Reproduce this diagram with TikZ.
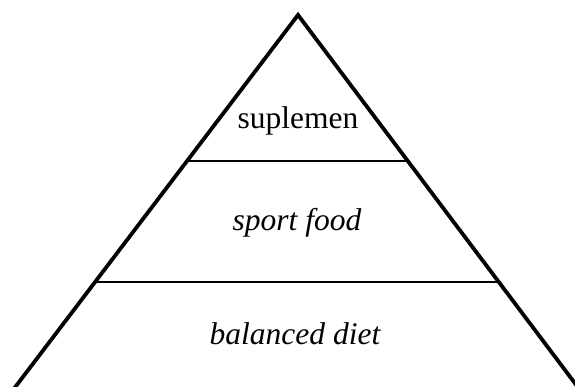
\documentclass[tikz,border=0pt]{standalone}
\usepackage{fontspec}
\setmainfont{Liberation Serif}
\begin{document}
\begin{tikzpicture}[x=1pt,y=-1pt,
  edge/.style={line width=3.8pt,line join=miter},
  tier/.style={line width=2pt},
  lbl/.style={inner sep=0pt,font=\fontsize{31.5}{36}\selectfont}]
\useasboundingbox (0,0) rectangle (575,387);
\begin{scope}
\clip (0,0) rectangle (575,387);
\coordinate (apex) at (298,15);
\coordinate (bl) at (13,390);
\coordinate (br) at (580,390);
\draw[edge] (bl) -- (apex) -- (br);
\coordinate (l1a) at (188,161);
\coordinate (l1b) at (407,161);
\coordinate (l2a) at (96,282);
\coordinate (l2b) at (498,282);
\draw[tier] (l1a) -- (l1b);
\draw[tier] (l2a) -- (l2b);
\end{scope}
\node[lbl] (t1) at (298,121) {suplemen};
\node[lbl] (t2) at (297,223) {\itshape sport food};
\node[lbl] (t3) at (295,334) {\itshape balanced diet};
\end{tikzpicture}
\end{document}
